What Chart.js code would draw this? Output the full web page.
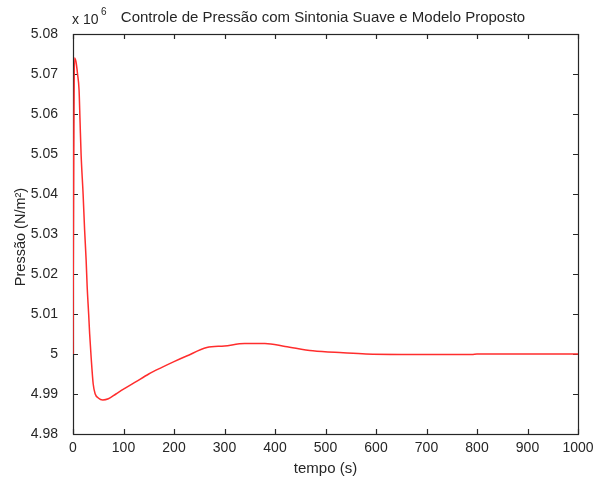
<!DOCTYPE html>
<html>
<head>
<meta charset="utf-8">
<script src="https://cdn.jsdelivr.net/npm/chart.js@4.4.0/dist/chart.umd.min.js"></script>
<style>
  body { margin: 0; background: #fff; }
  canvas { display: block; }
</style>
</head>
<body>
<canvas id="pressaoChart" width="597" height="482"></canvas>
<script>
// tempo (s) and pressure (x 10^6 N/m2)
const tempo = [0, 0.5, 1.5, 3, 6, 9, 12, 14, 16, 20, 23, 26, 28, 31, 33, 36, 40, 44, 50, 59, 70, 85,
    100, 125, 150, 175, 200, 225, 265, 300, 340, 380, 420, 475, 535, 580, 650, 790, 800, 1000];
const pressao = [5.000, 5.020, 5.050, 5.074, 5.073, 5.070, 5.066, 5.058, 5.050, 5.040, 5.031, 5.0235, 5.017, 5.010, 5.005, 4.999, 4.9925, 4.990, 4.989, 4.9885, 4.9888, 4.990,
    4.9912, 4.9931, 4.9950, 4.9966, 4.9981, 4.9995, 5.0016, 5.0020, 5.0026, 5.0026, 5.0019, 5.0008, 5.0003, 5.0000, 4.9999, 4.9999, 5.0000, 5.0000];

const xTicks = [0, 100, 200, 300, 400, 500, 600, 700, 800, 900, 1000];
const yTicks = [4.98, 4.99, 5, 5.01, 5.02, 5.03, 5.04, 5.05, 5.06, 5.07, 5.08];

const titleText = 'Controle de Pressão com Sintonia Suave e Modelo Proposto';
const xLabel = 'tempo (s)';
const yLabel = 'Pressão (N/m²)';

const FONT = '"Liberation Sans", Arial, sans-serif';
const INK = '#262626';

// matlab-like box with inward ticks plus the texts
const matlabAxes = {
    id: 'matlabAxes',
    beforeDatasetsDraw(chart) {
        const { ctx, chartArea: a, scales } = chart;
        ctx.save();
        ctx.strokeStyle = INK;
        ctx.lineWidth = 1.2;
        ctx.strokeRect(a.left + 0.5, a.top + 0.5, a.right - a.left, a.bottom - a.top);
        ctx.beginPath();
        xTicks.forEach(v => {
            const px = Math.round(scales.x.getPixelForValue(v)) + 0.5;
            ctx.moveTo(px, a.bottom); ctx.lineTo(px, a.bottom - 5);
            ctx.moveTo(px, a.top); ctx.lineTo(px, a.top + 5);
        });
        yTicks.forEach(v => {
            const py = Math.round(scales.y.getPixelForValue(v)) + 0.5;
            ctx.moveTo(a.left, py); ctx.lineTo(a.left + 5, py);
            ctx.moveTo(a.right, py); ctx.lineTo(a.right - 5, py);
        });
        ctx.stroke();
        ctx.restore();
    },
    afterDraw(chart) {
        const { ctx, chartArea: a } = chart;
        ctx.save();
        ctx.fillStyle = INK;
        ctx.textBaseline = 'middle';
        ctx.font = '15px ' + FONT;
        ctx.textAlign = 'center';
        ctx.fillText(titleText, 323, 18);
        ctx.fillText(xLabel, (a.left + a.right) / 2, 469);
        ctx.textAlign = 'left';
        ctx.font = '14px ' + FONT;
        ctx.fillText('x 10', 72, 20);
        ctx.font = '10px ' + FONT;
        ctx.fillText('6', 101, 12);
        ctx.font = '14.5px ' + FONT;
        ctx.translate(21, (a.top + a.bottom) / 2 + 3);
        ctx.rotate(-Math.PI / 2);
        ctx.textAlign = 'center';
        ctx.fillText(yLabel, 0, 0);
        ctx.restore();
    }
};

new Chart(document.getElementById('pressaoChart'), {
    type: 'line',
    data: {
        datasets: [{
            data: tempo.map((t, i) => ({ x: t, y: pressao[i] })),
            borderColor: 'rgb(255, 45, 45)',
            borderWidth: 1.5,
            pointRadius: 0,
            tension: 0,
            cubicInterpolationMode: 'monotone',
            fill: false
        }]
    },
    options: {
        responsive: false,
        animation: false,
        layout: { padding: { top: 34, right: 19, left: 0, bottom: 0 } },
        plugins: { legend: { display: false }, tooltip: { enabled: false }, title: { display: false } },
        scales: {
            x: {
                type: 'linear',
                min: 0, max: 1000,
                grid: { display: false },
                border: { display: false },
                afterFit: s => { s.height = 48; },
                afterBuildTicks: s => { s.ticks = xTicks.map(v => ({ value: v })); },
                ticks: {
                    color: INK, font: { family: FONT, size: 14 }, padding: -2, maxRotation: 0, autoSkip: false,
                    callback: v => String(v)
                }
            },
            y: {
                min: 4.98, max: 5.08,
                grid: { display: false },
                border: { display: false },
                afterFit: s => { s.width = 73; },
                afterBuildTicks: s => { s.ticks = yTicks.map(v => ({ value: v })); },
                ticks: {
                    color: INK, font: { family: FONT, size: 14 }, padding: 7, autoSkip: false,
                    callback: v => String(parseFloat(v.toFixed(2)))
                }
            }
        }
    },
    plugins: [matlabAxes]
});
</script>
</body>
</html>
